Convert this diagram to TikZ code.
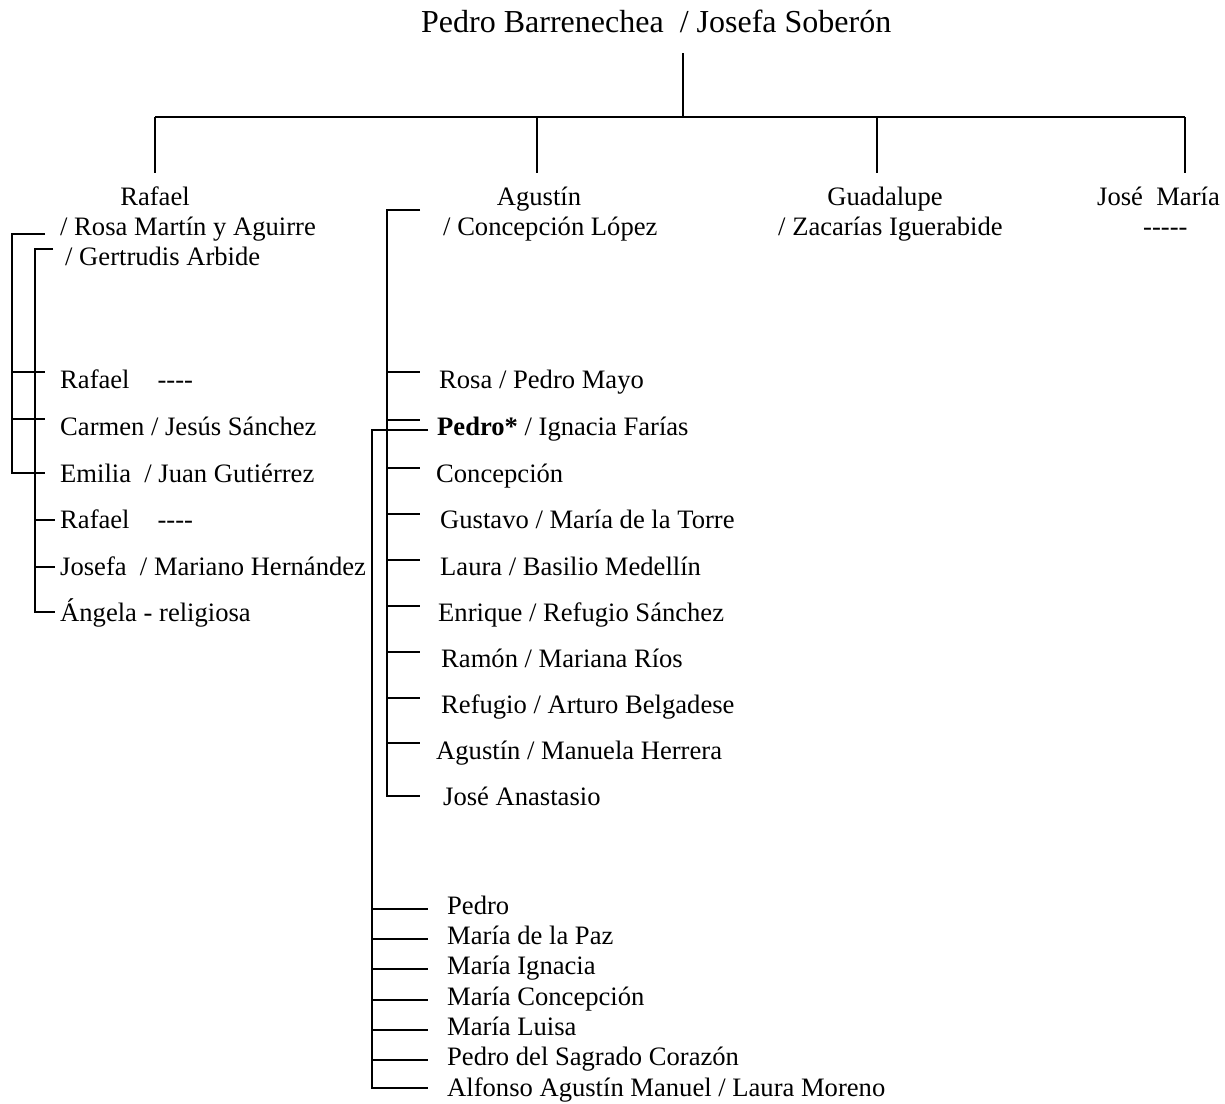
\documentclass[tikz,border=0pt]{standalone}
\usepackage{fontspec}
\setmainfont{Liberation Serif}
\newcommand{\bodysize}{\fontsize{26.6}{30}\selectfont}
\newcommand{\titlesize}{\fontsize{32}{38}\selectfont}
\begin{document}
\begin{tikzpicture}[x=1pt,y=-1pt,
  link/.style={line width=2.1pt, line join=miter},
  lbl/.style={inner sep=0pt, anchor=base west, font=\bodysize},
  ctr/.style={inner sep=0pt, anchor=base, font=\bodysize}]
\useasboundingbox (0,0) rectangle (1225,1103);

% ---------- parents ----------
\node[lbl, font=\titlesize] (root) at (421,32) {Pedro Barrenechea~ / Josefa Soberón};
\coordinate (stemtop) at (683,53);
\coordinate (stembot) at (683,117);
\coordinate (barL) at (155,117);
\coordinate (barA) at (537,117);
\coordinate (barG) at (877,117);
\coordinate (barR) at (1185,117);
\draw[link] (stemtop) -- (stembot);
\draw[link] (barL) -- (barR);
\coordinate (dropL) at (155,173);
\coordinate (dropA) at (537,173);
\coordinate (dropG) at (877,173);
\coordinate (dropR) at (1185,173);
\draw[link] (barL) -- (dropL);
\draw[link] (barA) -- (dropA);
\draw[link] (barG) -- (dropG);
\draw[link] (barR) -- (dropR);

% ---------- children ----------
\node[ctr] (rafael) at (155,205) {Rafael};
\node[ctr] (agustin) at (539,205) {Agustín};
\node[ctr] (guadalupe) at (885,205) {Guadalupe};
\node[lbl] (josemaria) at (1097,205) {José~ María};
\node[lbl] (rafspA) at (60,235) {/ Rosa Martín y Aguirre};
\node[lbl] (rafspB) at (65,265) {/ Gertrudis Arbide};
\node[lbl] (agsp) at (443,235) {/ Concepción López};
\node[lbl] (guasp) at (778,235) {/ Zacarías Iguerabide};
\node[lbl] (josesp) at (1143,235) {-{}-{}-{}-{}-};

% ---------- Rafael's children ----------
\node[lbl] (rA1) at (60,388) {Rafael\hspace{28pt}-{}-{}-{}-};
\node[lbl] (rA2) at (60,435) {Carmen / Jesús Sánchez};
\node[lbl] (rA3) at (60,482) {Emilia~ / Juan Gutiérrez};
\node[lbl] (rB1) at (60,528) {Rafael\hspace{28pt}-{}-{}-{}-};
\node[lbl] (rB2) at (60,575) {Josefa~ / Mariano Hernández};
\node[lbl] (rB3) at (60,621) {Ángela - religiosa};

% first marriage bracket
\coordinate (oTop) at (12,234);  \coordinate (oTopE) at (45,234);
\coordinate (oBot) at (12,473);  \coordinate (oBotE) at (45,473);
\coordinate (o1) at (12,372);    \coordinate (o1E) at (45,372);
\coordinate (o2) at (12,419);    \coordinate (o2E) at (45,419);
\draw[link] (oTopE) -- (oTop) -- (oBot) -- (oBotE);
\draw[link] (o1) -- (o1E);
\draw[link] (o2) -- (o2E);
% second marriage bracket
\coordinate (iTop) at (35,249);  \coordinate (iTopE) at (53,249);
\coordinate (iBot) at (35,612);  \coordinate (iBotE) at (55,612);
\coordinate (i1) at (35,520);    \coordinate (i1E) at (55,520);
\coordinate (i2) at (35,567);    \coordinate (i2E) at (55,567);
\draw[link] (iTopE) -- (iTop) -- (iBot) -- (iBotE);
\draw[link] (i1) -- (i1E);
\draw[link] (i2) -- (i2E);

% ---------- Agustín's children ----------
\node[lbl] (g1) at (439,388) {Rosa / Pedro Mayo};
\node[lbl] (g2) at (437,435) {\textbf{Pedro*} / Ignacia Farías};
\node[lbl] (g3) at (436,482) {Concepción};
\node[lbl] (g4) at (440,528) {Gustavo / María de la Torre};
\node[lbl] (g5) at (440,575) {Laura / Basilio Medellín};
\node[lbl] (g6) at (438,621) {Enrique / Refugio Sánchez};
\node[lbl] (g7) at (441,667) {Ramón / Mariana Ríos};
\node[lbl] (g8) at (441,713) {Refugio / Arturo Belgadese};
\node[lbl] (g9) at (436,759) {Agustín / Manuela Herrera};
\node[lbl] (g10) at (443,805) {José Anastasio};

\coordinate (aTop) at (387,210); \coordinate (aTopE) at (420,210);
\coordinate (aBot) at (387,796); \coordinate (aBotE) at (420,796);
\draw[link] (aTopE) -- (aTop) -- (aBot) -- (aBotE);
\foreach \t [count=\i] in {372,420,468,514,560,606,652,698,743}{
  \coordinate (at\i) at (387,\t);
  \coordinate (atE\i) at (420,\t);
  \draw[link] (at\i) -- (atE\i);
}

% ---------- Pedro*'s children ----------
\node[lbl] (p1) at (447,914) {Pedro};
\node[lbl] (p2) at (447,944) {María de la Paz};
\node[lbl] (p3) at (447,974) {María Ignacia};
\node[lbl] (p4) at (447,1005) {María Concepción};
\node[lbl] (p5) at (447,1035) {María Luisa};
\node[lbl] (p6) at (447,1065) {Pedro del Sagrado Corazón};
\node[lbl] (p7) at (447,1096) {Alfonso Agustín Manuel / Laura Moreno};

\coordinate (pTop) at (372,430); \coordinate (pTopE) at (428,430);
\coordinate (pBot) at (372,1088); \coordinate (pBotE) at (428,1088);
\draw[link] (pTopE) -- (pTop) -- (pBot) -- (pBotE);
\foreach \t [count=\i] in {909,939,969,1000,1030,1060}{
  \coordinate (pt\i) at (372,\t);
  \coordinate (ptE\i) at (428,\t);
  \draw[link] (pt\i) -- (ptE\i);
}
\end{tikzpicture}
\end{document}
